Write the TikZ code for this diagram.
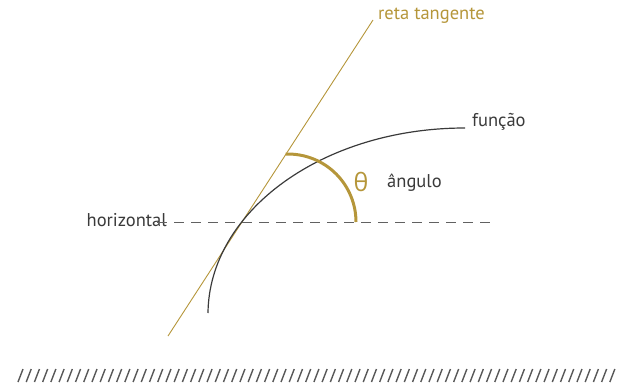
\documentclass[tikz,border=0pt]{standalone}
\usepackage{fontspec}
\setmainfont{PT Sans}
\newfontfamily\greekfont{Open Sans}
\usepackage{xcolor}
\usetikzlibrary{positioning,arrows.meta}

\definecolor{ouro}{HTML}{B5963A}
\definecolor{tinta}{HTML}{3A3A3A}

\tikzset{
	rotulo/.style={font=\fontsize{18.5}{20}\selectfont, text=tinta, inner sep=0pt},
	tangente/.style={draw=ouro, line width=0.9pt},
	funcao/.style={draw=tinta, line width=1.2pt},
	angulo/.style={draw=ouro, line width=3pt},
	tracejado/.style={draw=tinta!80, line width=1pt, dash pattern=on 10pt off 7pt},
	hachura/.style={draw=tinta!85, line width=1.4pt}
}

\begin{document}
\begin{tikzpicture}[x=1pt, y=-1pt]
			\useasboundingbox (0,0) rectangle (618,383);

			% tangent line and crossing point
			\coordinate (t0) at (168,336);
			\coordinate (t1) at (373,20);
			\coordinate (f0) at (208,313);
			\coordinate (f1) at (465,128);
			\coordinate (h0) at (157,222);
			\coordinate (h1) at (490,222);
			\coordinate (a0) at (356,222);

			\node[rotulo, text=ouro, anchor=west] (rt) at (378,16) {reta tangente};
			\node[rotulo, anchor=west] (fn) at (472,122) {função};
			\node[rotulo, anchor=east] (hz) at (167,220) {horizontal};
			\node[rotulo, anchor=west] (ang) at (387,183) {ângulo};
			\node[rotulo, text=ouro, font=\greekfont\fontsize{25}{27}\selectfont, anchor=center] (th) at (361,182) {θ};

			\draw[tracejado] (h0) -- (h1);
			\draw[tangente] (t0) -- (t1);
			\draw[funcao] (f0) .. controls (209,211) and (323,128) .. (f1);
			\draw[angulo] (a0) arc[start angle=0, end angle=-92, radius=68];

			% ground
			\foreach \i in {0,...,72}
				\draw[hachura] (18+\i*8.22,382) -- (23+\i*8.22,369);
		\end{tikzpicture}
\end{document}
